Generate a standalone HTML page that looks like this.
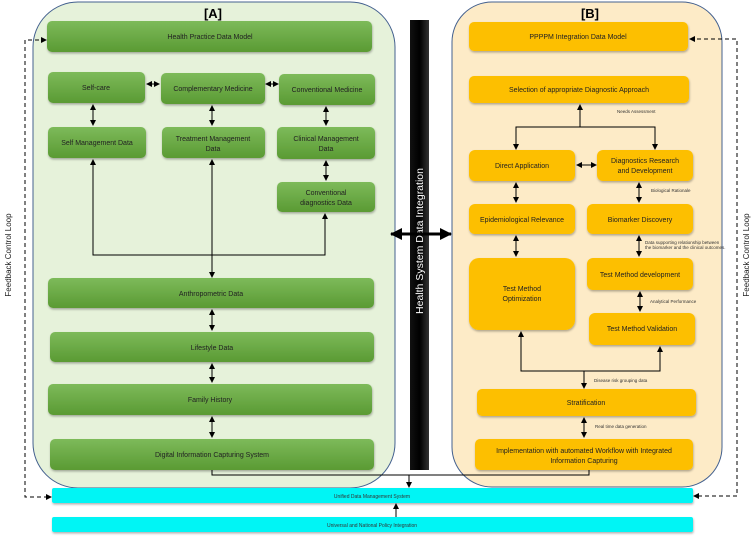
<!DOCTYPE html>
<html><head><meta charset="utf-8"><style>
body{margin:0;background:#fff}
svg{display:block;font-family:"Liberation Sans",sans-serif}
.g{fill:url(#gg);filter:url(#sh)}
.o{fill:#fdbf00;filter:url(#sh)}
.t{font-size:7px;fill:#222;text-anchor:middle}
.s{font-size:4.5px;fill:#333}
</style></head><body>
<svg width="754" height="538" viewBox="0 0 754 538" xmlns="http://www.w3.org/2000/svg">
<defs>
<filter id="sh" x="-5%" y="-20%" width="110%" height="150%"><feDropShadow dx="0.5" dy="1.5" stdDeviation="1" flood-color="#000" flood-opacity="0.3"/></filter>
<linearGradient id="gg" x1="0" y1="0" x2="0" y2="1"><stop offset="0" stop-color="#7dba5a"/><stop offset="1" stop-color="#5a9a33"/></linearGradient>
<linearGradient id="bk" x1="0" y1="0" x2="1" y2="0"><stop offset="0" stop-color="#111"/><stop offset=".5" stop-color="#000"/><stop offset="1" stop-color="#333"/></linearGradient>
<marker id="a" markerWidth="6" markerHeight="6" refX="5" refY="3" orient="auto-start-reverse" markerUnits="userSpaceOnUse"><path d="M0,0 L6,3 L0,6z" fill="#000"/></marker>
<marker id="A" markerWidth="12" markerHeight="12" refX="11" refY="6" orient="auto-start-reverse" markerUnits="userSpaceOnUse"><path d="M0,0 L12,6 L0,12z" fill="#000"/></marker>
</defs>
<rect x="33" y="2" width="362" height="486" rx="45" fill="#e6f2da" stroke="#44618f" stroke-width="1"/>
<rect x="452" y="2" width="270" height="485" rx="40" fill="#fdebc7" stroke="#44618f" stroke-width="1"/>
<text x="213" y="18" font-size="13" font-weight="bold" text-anchor="middle">[A]</text>
<text x="590" y="18" font-size="13" font-weight="bold" text-anchor="middle">[B]</text>
<rect x="410" y="20" width="19" height="450" fill="url(#bk)"/>
<text transform="translate(423,241) rotate(-90)" font-size="10.5" fill="#fff" text-anchor="middle">Health System Data Integration</text>
<line x1="391" y1="234" x2="451" y2="234" stroke="#000" stroke-width="3" marker-start="url(#A)" marker-end="url(#A)"/>
<g>
<rect class="g" x="47" y="21" width="325" height="31" rx="5"/>
<rect class="g" x="48" y="72" width="97" height="31" rx="5"/>
<rect class="g" x="161" y="73" width="104" height="31" rx="5"/>
<rect class="g" x="279" y="74" width="96" height="31" rx="5"/>
<rect class="g" x="48" y="127" width="98" height="31" rx="5"/>
<rect class="g" x="162" y="127" width="103" height="31" rx="5"/>
<rect class="g" x="277" y="127" width="98" height="32" rx="5"/>
<rect class="g" x="277" y="182" width="98" height="30" rx="5"/>
<rect class="g" x="48" y="278" width="326" height="30" rx="5"/>
<rect class="g" x="50" y="332" width="324" height="30" rx="5"/>
<rect class="g" x="48" y="384" width="324" height="31" rx="5"/>
<rect class="g" x="50" y="439" width="324" height="31" rx="5"/>
</g>
<g class="t">
<text x="210" y="39">Health Practice Data Model</text>
<text x="96" y="90">Self-care</text>
<text x="213" y="91">Complementary Medicine</text>
<text x="327" y="92">Conventional Medicine</text>
<text x="97" y="145">Self Management Data</text>
<text x="213" y="141">Treatment Management</text><text x="213" y="151">Data</text>
<text x="326" y="141">Clinical Management</text><text x="326" y="151">Data</text>
<text x="326" y="195">Conventional</text><text x="326" y="205">diagnostics Data</text>
<text x="211" y="296">Anthropometric Data</text>
<text x="212" y="350">Lifestyle Data</text>
<text x="210" y="402">Family History</text>
<text x="212" y="457">Digital Information Capturing System</text>
</g>
<g stroke="#000" stroke-width="1" fill="none">
<line x1="147" y1="84" x2="159" y2="84" marker-start="url(#a)" marker-end="url(#a)"/>
<line x1="266" y1="84" x2="278" y2="84" marker-start="url(#a)" marker-end="url(#a)"/>
<line x1="93" y1="105" x2="93" y2="125" marker-start="url(#a)" marker-end="url(#a)"/>
<line x1="212" y1="106" x2="212" y2="125" marker-start="url(#a)" marker-end="url(#a)"/>
<line x1="326" y1="107" x2="326" y2="125" marker-start="url(#a)" marker-end="url(#a)"/>
<line x1="326" y1="161" x2="326" y2="180" marker-start="url(#a)" marker-end="url(#a)"/>
<polyline points="93,160 93,255 325,255 325,214" marker-start="url(#a)" marker-end="url(#a)"/>
<line x1="212" y1="160" x2="212" y2="277" marker-start="url(#a)" marker-end="url(#a)"/>
<line x1="212" y1="310" x2="212" y2="330" marker-start="url(#a)" marker-end="url(#a)"/>
<line x1="212" y1="364" x2="212" y2="382" marker-start="url(#a)" marker-end="url(#a)"/>
<line x1="212" y1="417" x2="212" y2="437" marker-start="url(#a)" marker-end="url(#a)"/>
<polyline points="212,470 212,475 589,475 589,470"/>
<line x1="409" y1="475" x2="409" y2="487" marker-end="url(#a)"/>
<line x1="396" y1="517" x2="396" y2="504" marker-end="url(#a)"/>
</g>
<g>
<rect class="o" x="469" y="22" width="219" height="29" rx="5"/>
<rect class="o" x="469" y="76" width="220" height="27" rx="5"/>
<rect class="o" x="469" y="150" width="106" height="31" rx="6"/>
<rect class="o" x="597" y="150" width="96" height="31" rx="6"/>
<rect class="o" x="469" y="204" width="106" height="30" rx="6"/>
<rect class="o" x="587" y="204" width="106" height="30" rx="6"/>
<rect class="o" x="469" y="258" width="106" height="72" rx="10"/>
<rect class="o" x="587" y="258" width="106" height="32" rx="6"/>
<rect class="o" x="589" y="313" width="106" height="32" rx="6"/>
<rect class="o" x="477" y="389" width="219" height="27" rx="5"/>
<rect class="o" x="475" y="439" width="218" height="31" rx="5"/>
</g>
<g class="t">
<text x="578" y="39">PPPPM Integration Data Model</text>
<text x="579" y="92">Selection of appropriate Diagnostic Approach</text>
<text x="522" y="168">Direct Application</text>
<text x="645" y="163">Diagnostics Research</text><text x="645" y="173">and Development</text>
<text x="522" y="222">Epidemiological Relevance</text>
<text x="640" y="222">Biomarker Discovery</text>
<text x="522" y="291">Test Method</text><text x="522" y="301">Optimization</text>
<text x="640" y="277">Test Method development</text>
<text x="642" y="331">Test Method Validation</text>
<text x="586" y="405">Stratification</text>
<text x="584" y="453">Implementation with automated Workflow with Integrated</text><text x="584" y="463">Information Capturing</text>
</g>
<g class="s">
<text x="617" y="113">Needs Assessment</text>
<text x="651" y="192">Biological Rationale</text>
<text x="645" y="244">Data supporting relationship between</text>
<text x="645" y="249">the biomarker and the clinical outcomes.</text>
<text x="650" y="303">Analytical Performance</text>
<text x="594" y="382">Disease risk grouping data</text>
<text x="595" y="428">Real time data generation</text>
</g>
<g stroke="#000" stroke-width="1" fill="none">
<line x1="580" y1="127" x2="580" y2="105" marker-end="url(#a)"/>
<polyline points="516,149 516,127 655,127 655,149" marker-start="url(#a)" marker-end="url(#a)"/>
<line x1="577" y1="165" x2="596" y2="165" marker-start="url(#a)" marker-end="url(#a)"/>
<line x1="516" y1="183" x2="516" y2="202" marker-start="url(#a)" marker-end="url(#a)"/>
<line x1="639" y1="183" x2="639" y2="202" marker-start="url(#a)" marker-end="url(#a)"/>
<line x1="516" y1="236" x2="516" y2="256" marker-start="url(#a)" marker-end="url(#a)"/>
<line x1="639" y1="236" x2="639" y2="256" marker-start="url(#a)" marker-end="url(#a)"/>
<line x1="640" y1="292" x2="640" y2="311" marker-start="url(#a)" marker-end="url(#a)"/>
<polyline points="521,332 521,371 660,371 660,347" marker-start="url(#a)" marker-end="url(#a)"/>
<line x1="584" y1="371" x2="584" y2="388" marker-end="url(#a)"/>
<line x1="584" y1="418" x2="584" y2="437" marker-start="url(#a)" marker-end="url(#a)"/>
</g>
<rect x="52" y="488" width="641" height="15" rx="2" fill="#00f5f5" filter="url(#sh)"/>
<rect x="52" y="517" width="641" height="15" rx="2" fill="#00f5f5" filter="url(#sh)"/>
<text x="372" y="498" font-size="5" fill="#333" text-anchor="middle">Unified Data Management System</text>
<text x="372" y="527" font-size="5" fill="#333" text-anchor="middle">Universal and National Policy Integration</text>
<g stroke="#000" stroke-width="1" fill="none" stroke-dasharray="4,3">
<polyline points="46,40 25,40 25,497 51,497" marker-start="url(#a)" marker-end="url(#a)"/>
<polyline points="690,39 737,39 737,496 694,496" marker-start="url(#a)" marker-end="url(#a)"/>
</g>
<text transform="translate(11,255) rotate(-90)" font-size="8" fill="#222" text-anchor="middle">Feedback Control Loop</text>
<text transform="translate(749,255) rotate(-90)" font-size="8" fill="#222" text-anchor="middle">Feedback Control Loop</text>
</svg>
</body></html>
